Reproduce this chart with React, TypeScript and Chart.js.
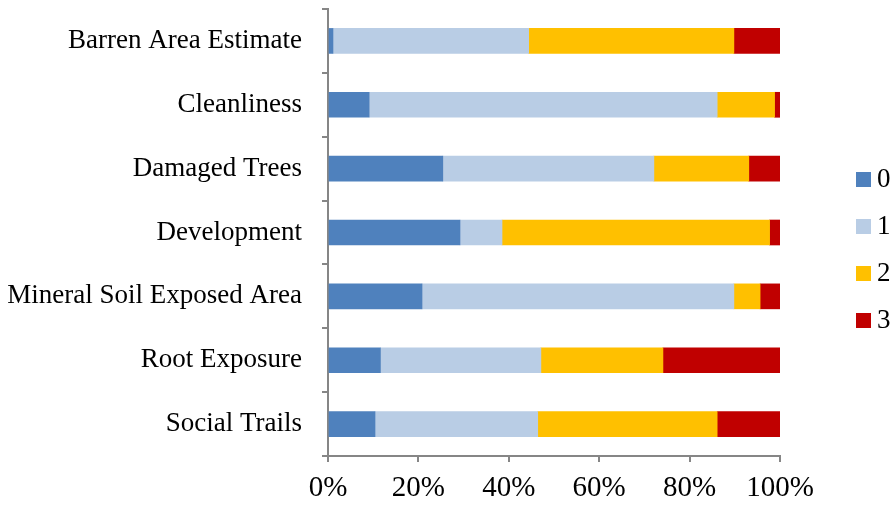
import React, { useEffect, useRef } from "react";
import { Chart, registerables } from "chart.js";

Chart.register(...registerables);

const categories = [
  "Barren Area Estimate",
  "Cleanliness",
  "Damaged Trees",
  "Development",
  "Mineral Soil Exposed Area",
  "Root Exposure",
  "Social Trails",
];

const seriesNames = ["0", "1", "2", "3"];
const series0 = [1.1, 9.1, 25.4, 29.2, 20.8, 11.6, 10.4];
const series1 = [43.3, 77.0, 46.7, 9.3, 69.0, 35.5, 36.0];
const series2 = [45.4, 12.7, 21.0, 59.2, 5.8, 27.0, 39.7];
const series3 = [10.2, 1.2, 6.9, 2.3, 4.4, 25.9, 13.9];
const colors = ["#4F81BD", "#B9CDE5", "#FFC000", "#C00000"];
const xTicks = [0, 20, 40, 60, 80, 100];

const FONT = "'Liberation Serif', 'Times New Roman', serif";
const AXIS = "#868686";

const legendPlugin = {
  id: "customLegend",
  afterDraw(chart: any) {
    const ctx = chart.ctx;
    ctx.save();
    ctx.font = `27px ${FONT}`;
    ctx.textBaseline = "middle";
    ctx.textAlign = "left";
    chart.data.datasets.forEach((ds: any, i: number) => {
      const y = 172 + i * 47;
      ctx.fillStyle = ds.backgroundColor;
      ctx.fillRect(856, y, 15, 15);
      ctx.fillStyle = "#000";
      ctx.fillText(ds.label, 877, y + 8);
    });
    ctx.restore();
  },
};

export default function App() {
  const ref = useRef<HTMLCanvasElement>(null);
  useEffect(() => {
    if (!ref.current) return;
    const values = [series0, series1, series2, series3];
    const chart = new Chart(ref.current, {
      type: "bar",
      data: {
        labels: categories,
        datasets: seriesNames.map((n, i) => ({
          label: n,
          data: values[i],
          backgroundColor: colors[i],
          borderWidth: 0,
          barThickness: 25,
        })),
      },
      options: {
        indexAxis: "y",
        animation: false,
        responsive: true,
        maintainAspectRatio: false,
        layout: { padding: { top: 9, right: 114, left: 0, bottom: 0 } },
        plugins: { legend: { display: false }, tooltip: { enabled: false } },
        scales: {
          x: {
            stacked: true,
            min: 0,
            max: 100,
            afterBuildTicks: (scale: any) => {
              scale.ticks = xTicks.map((v) => ({ value: v }));
            },
            afterFit: (scale: any) => {
              scale.height = 50;
            },
            ticks: {
              callback: (v: any) => v + "%",
              color: "#000",
              font: { family: FONT, size: 29 },
              padding: 9,
              maxRotation: 0,
            },
            grid: {
              drawOnChartArea: false,
              drawTicks: true,
              tickLength: 6,
              color: AXIS,
              lineWidth: 2,
            },
            border: { color: AXIS, width: 2 },
          },
          y: {
            stacked: true,
            afterFit: (scale: any) => {
              scale.width = 328;
              scale.paddingTop = 0;
              scale.paddingBottom = 0;
            },
            ticks: {
              color: "#000",
              font: { family: FONT, size: 27 },
              padding: 20,
            },
            grid: {
              drawOnChartArea: false,
              drawTicks: true,
              tickLength: 6,
              color: AXIS,
              lineWidth: 2,
              offset: true,
            },
            border: { color: AXIS, width: 2 },
          },
        },
      },
      plugins: [legendPlugin],
    });
    return () => chart.destroy();
  }, []);
  return (
    <div style={{ position: "absolute", left: 0, top: 0, width: 894, height: 506, background: "#fff" }}>
      <canvas ref={ref} />
    </div>
  );
}
